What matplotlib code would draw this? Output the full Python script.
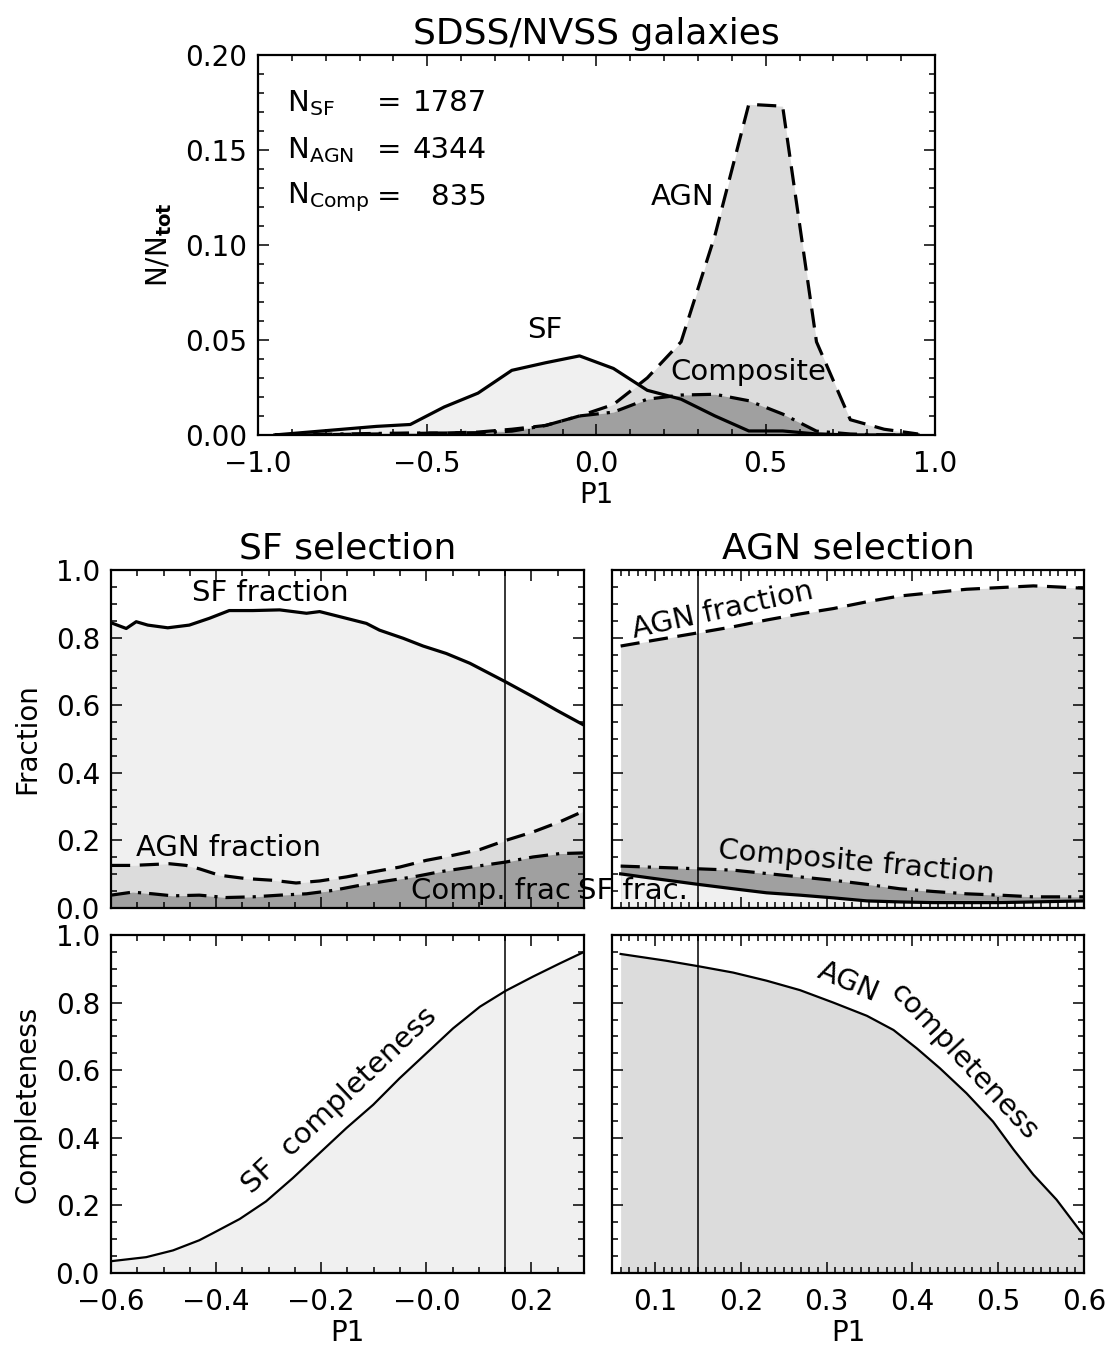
import numpy as np
import matplotlib
matplotlib.use("Agg")
import matplotlib.pyplot as plt
from matplotlib.ticker import FixedLocator, FixedFormatter, MultipleLocator

plt.rcParams["font.family"] = "DejaVu Sans"
plt.rcParams["mathtext.fontset"] = "dejavusans"

# ---- P1 distributions (N/N_tot per bin, bins of 0.1) ----
p1_bins = [-0.95, -0.85, -0.75, -0.65, -0.55, -0.45, -0.35, -0.25, -0.15, -0.05,
           0.05, 0.15, 0.25, 0.35, 0.45, 0.55, 0.65, 0.75, 0.85, 0.95]
hist_sf = [0.0, 0.0015, 0.003, 0.0045, 0.0055, 0.0147, 0.022, 0.034, 0.038, 0.0416,
           0.035, 0.0235, 0.0188, 0.010, 0.0021, 0.0021, 0.0005, 0.0, 0.0, 0.0]
hist_agn = [0.0, 0.0, 0.0003, 0.0005, 0.0008, 0.001, 0.0015, 0.003, 0.005, 0.010,
            0.016, 0.030, 0.049, 0.105, 0.174, 0.173, 0.049, 0.008, 0.003, 0.0005]
hist_comp = [0.0, 0.0003, 0.0005, 0.0008, 0.001, 0.001, 0.0012, 0.002, 0.005, 0.010,
             0.012, 0.0188, 0.021, 0.0214, 0.018, 0.011, 0.002, 0.0005, 0.0, 0.0]
n_sf, n_agn, n_comp = 1787, 4344, 835

# ---- SF selection: fractions vs P1 cut ----
sfsel_p1_sf = [-0.6, -0.571, -0.552, -0.53, -0.492, -0.451, -0.413, -0.375, -0.33,
               -0.279, -0.228, -0.203, -0.152, -0.114, -0.089, -0.044, -0.006,
               0.038, 0.083, 0.151, 0.203, 0.248, 0.3]
sfsel_frac_sf = [0.844, 0.827, 0.847, 0.837, 0.829, 0.837, 0.857, 0.880, 0.880,
                 0.882, 0.872, 0.877, 0.857, 0.842, 0.822, 0.798, 0.775, 0.753,
                 0.724, 0.669, 0.625, 0.585, 0.541]
sfsel_p1_agn = [-0.6, -0.559, -0.489, -0.457, -0.432, -0.394, -0.343, -0.292, -0.248,
                -0.203, -0.152, -0.101, -0.051, 0.0, 0.051, 0.102, 0.151, 0.203,
                0.254, 0.3]
sfsel_frac_agn = [0.126, 0.126, 0.131, 0.126, 0.116, 0.097, 0.087, 0.082, 0.074,
                  0.080, 0.092, 0.107, 0.121, 0.141, 0.156, 0.173, 0.200, 0.225,
                  0.255, 0.287]
sfsel_p1_comp = [-0.6, -0.559, -0.521, -0.483, -0.432, -0.381, -0.33, -0.279, -0.228,
                 -0.178, -0.127, -0.076, -0.025, 0.025, 0.076, 0.151, 0.203, 0.254,
                 0.3]
sfsel_frac_comp = [0.038, 0.047, 0.042, 0.036, 0.038, 0.031, 0.033, 0.038, 0.042,
                   0.052, 0.067, 0.080, 0.092, 0.107, 0.119, 0.136, 0.151, 0.161,
                   0.163]

# ---- AGN selection: fractions vs P1 cut ----
agnsel_p1 = [0.06, 0.094, 0.15, 0.191, 0.23, 0.269, 0.308, 0.347, 0.385, 0.424,
             0.463, 0.502, 0.541, 0.56, 0.6]
agnsel_frac_agn = [0.775, 0.790, 0.814, 0.832, 0.852, 0.870, 0.886, 0.906, 0.923,
                   0.933, 0.943, 0.948, 0.953, 0.951, 0.946]
agnsel_frac_comp = [0.124, 0.121, 0.116, 0.112, 0.102, 0.092, 0.082, 0.070, 0.057,
                    0.049, 0.042, 0.038, 0.033, 0.033, 0.033]
agnsel_frac_sf = [0.101, 0.089, 0.070, 0.057, 0.045, 0.038, 0.030, 0.021, 0.018,
                  0.016, 0.016, 0.016, 0.018, 0.019, 0.021]

# ---- completeness ----
sfcomp_p1 = [-0.6, -0.533, -0.482, -0.432, -0.406, -0.355, -0.305, -0.254, -0.203,
             -0.152, -0.101, -0.051, 0.0, 0.051, 0.102, 0.151, 0.203, 0.254, 0.3]
sfcomp = [0.035, 0.047, 0.067, 0.097, 0.118, 0.160, 0.212, 0.281, 0.355, 0.429,
          0.498, 0.576, 0.650, 0.724, 0.788, 0.835, 0.877, 0.916, 0.950]
agncomp_p1 = [0.06, 0.113, 0.15, 0.191, 0.23, 0.269, 0.308, 0.347, 0.378, 0.405,
              0.432, 0.463, 0.494, 0.518, 0.541, 0.568, 0.596, 0.6]
agncomp = [0.944, 0.924, 0.908, 0.889, 0.865, 0.837, 0.800, 0.761, 0.719, 0.665,
           0.606, 0.532, 0.448, 0.365, 0.291, 0.217, 0.123, 0.113]

p1_cut = 0.15

top_xticks = [-1.0, -0.5, 0.0, 0.5, 1.0]
top_xlabels = ["\u22121.0", "\u22120.5", "0.0", "0.5", "1.0"]
top_yticks = [0.0, 0.05, 0.10, 0.15, 0.20]
top_ylabels = ["0.00", "0.05", "0.10", "0.15", "0.20"]
frac_yticks = [0.0, 0.2, 0.4, 0.6, 0.8, 1.0]
frac_ylabels = ["0.0", "0.2", "0.4", "0.6", "0.8", "1.0"]
sf_xticks = [-0.6, -0.4, -0.2, 0.0, 0.2]
sf_xlabels = ["\u22120.6", "\u22120.4", "\u22120.2", "\u22120.0", "0.2"]
agn_xticks = [0.1, 0.2, 0.3, 0.4, 0.5, 0.6]
agn_xlabels = ["0.1", "0.2", "0.3", "0.4", "0.5", "0.6"]

C_SF = "#f0f0f0"
C_AGN = "#dcdcdc"
C_COMP = "#a0a0a0"
LW = 2.3
DASH = (0, (6, 3))
DASHDOT = (0, (6, 2.5, 1, 2.5))
FS_TICK = 20
FS_LAB = 20
FS_TXT = 21
FS_TITLE = 26


def estilo(ax, xminor, yminor):
    ax.xaxis.set_minor_locator(MultipleLocator(xminor))
    ax.yaxis.set_minor_locator(MultipleLocator(yminor))
    ax.tick_params(which="both", direction="in", top=True, right=True,
                   width=1.1, labelsize=FS_TICK)
    ax.tick_params(axis="x", pad=11)
    ax.tick_params(axis="y", pad=8)
    ax.tick_params(which="major", length=8)
    ax.tick_params(which="minor", length=4)
    for s in ax.spines.values():
        s.set_linewidth(1.6)


def ticks(ax, xt, xl, yt, yl):
    ax.xaxis.set_major_locator(FixedLocator(xt))
    ax.yaxis.set_major_locator(FixedLocator(yt))
    if xl is None:
        ax.set_xticklabels([])
    else:
        ax.xaxis.set_major_formatter(FixedFormatter(xl))
    if yl is None:
        ax.set_yticklabels([])
    else:
        ax.yaxis.set_major_formatter(FixedFormatter(yl))


fig = plt.figure(figsize=(11.1, 13.52), dpi=100)

# ---------------- top: P1 histograms ----------------
ax0 = fig.add_axes([0.2324, 0.6783, 0.6099, 0.2811])
ax0.fill_between(p1_bins, 0, hist_sf, color=C_SF, lw=0)
ax0.fill_between(p1_bins, 0, hist_agn, color=C_AGN, lw=0)
ax0.fill_between(p1_bins, 0, hist_comp, color=C_COMP, lw=0)
ax0.plot(p1_bins, hist_sf, color="k", lw=LW)
ax0.plot(p1_bins, hist_agn, color="k", lw=LW, ls=DASH)
ax0.plot(p1_bins, hist_comp, color="k", lw=LW, ls=DASHDOT)
ax0.set_xlim(-1.0, 1.0)
ax0.set_ylim(0.0, 0.20)
ticks(ax0, top_xticks, top_xlabels, top_yticks, top_ylabels)
estilo(ax0, 0.1, 0.01)
ax0.set_xlabel("P1", fontsize=FS_LAB, labelpad=2)
ax0.set_ylabel(r"N/N$_{\mathbf{tot}}$", fontsize=FS_LAB, labelpad=8)
ax0.set_title("SDSS/NVSS galaxies", fontsize=FS_TITLE, pad=8)

filas = [(r"N$_{\mathrm{SF}}$", n_sf, 0.1747),
         (r"N$_{\mathrm{AGN}}$", n_agn, 0.150),
         (r"N$_{\mathrm{Comp}}$", n_comp, 0.1253)]
for lab, n, yy in filas:
    ax0.text(-0.914, yy, lab, fontsize=FS_TXT, ha="left", va="center")
    ax0.text(-0.612, yy, "=", fontsize=FS_TXT, ha="center", va="center")
    ax0.text(-0.3235, yy, f"{n:d}", fontsize=FS_TXT, ha="right", va="center")
ax0.text(0.2555, 0.1253, "AGN", fontsize=FS_TXT, ha="center", va="center")
ax0.text(-0.152, 0.0553, "SF", fontsize=FS_TXT, ha="center", va="center")
ax0.text(0.4476, 0.0332, "Composite", fontsize=FS_TXT, ha="center", va="center")

# ---------------- middle left: SF selection fractions ----------------
ax1 = fig.add_axes([0.1, 0.3284, 0.4261, 0.25])
ax1.fill_between(sfsel_p1_sf, 0, sfsel_frac_sf, color=C_SF, lw=0)
ax1.fill_between(sfsel_p1_agn, 0, sfsel_frac_agn, color=C_AGN, lw=0)
ax1.fill_between(sfsel_p1_comp, 0, sfsel_frac_comp, color=C_COMP, lw=0)
ax1.plot(sfsel_p1_sf, sfsel_frac_sf, color="k", lw=LW)
ax1.plot(sfsel_p1_agn, sfsel_frac_agn, color="k", lw=LW, ls=DASH)
ax1.plot(sfsel_p1_comp, sfsel_frac_comp, color="k", lw=LW, ls=DASHDOT)
ax1.axvline(p1_cut, color="k", lw=1.1)
ax1.set_xlim(-0.6, 0.3)
ax1.set_ylim(0.0, 1.0)
ticks(ax1, sf_xticks, None, frac_yticks, frac_ylabels)
estilo(ax1, 0.05, 0.05)
ax1.set_ylabel("Fraction", fontsize=FS_LAB, labelpad=10)
ax1.set_title("SF selection", fontsize=FS_TITLE, pad=8)
ax1.text(-0.296, 0.932, "SF fraction", fontsize=FS_TXT, ha="center", va="center")
ax1.text(-0.3755, 0.1775, "AGN fraction", fontsize=FS_TXT, ha="center", va="center")
ax1.text(-0.03, 0.05, "Comp. frac", fontsize=FS_TXT, ha="left", va="center",
         clip_on=False)

# ---------------- middle right: AGN selection fractions ----------------
ax2 = fig.add_axes([0.5514, 0.3284, 0.4252, 0.25])
ax2.fill_between(agnsel_p1, 0, agnsel_frac_agn, color=C_AGN, lw=0)
ax2.fill_between(agnsel_p1, 0, agnsel_frac_comp, color=C_COMP, lw=0)
ax2.fill_between(agnsel_p1, 0, agnsel_frac_sf, color=C_SF, lw=0)
ax2.plot(agnsel_p1, agnsel_frac_agn, color="k", lw=LW, ls=DASH)
ax2.plot(agnsel_p1, agnsel_frac_comp, color="k", lw=LW, ls=DASHDOT)
ax2.plot(agnsel_p1, agnsel_frac_sf, color="k", lw=LW)
ax2.axvline(p1_cut, color="k", lw=1.1)
ax2.set_xlim(0.05, 0.6)
ax2.set_ylim(0.0, 1.0)
ticks(ax2, agn_xticks, None, frac_yticks, None)
estilo(ax2, 0.01, 0.05)
ax2.set_title("AGN selection", fontsize=FS_TITLE, pad=8)
ax2.text(0.179, 0.882, "AGN fraction", fontsize=FS_TXT, ha="center", va="center",
         rotation=12.4, rotation_mode="anchor")
ax2.text(0.335, 0.136, "Composite fraction", fontsize=FS_TXT, ha="center",
         va="center", rotation=-5.1, rotation_mode="anchor")
ax2.text(0.0105, 0.05, "SF frac.", fontsize=FS_TXT, ha="left", va="center",
         clip_on=False)

# ---------------- bottom left: SF completeness ----------------
ax3 = fig.add_axes([0.1, 0.0584, 0.4261, 0.25])
ax3.fill_between(sfcomp_p1, 0, sfcomp, color=C_SF, lw=0)
ax3.plot(sfcomp_p1, sfcomp, color="k", lw=1.6)
ax3.axvline(p1_cut, color="k", lw=1.1)
ax3.set_xlim(-0.6, 0.3)
ax3.set_ylim(0.0, 1.0)
ticks(ax3, sf_xticks, sf_xlabels, frac_yticks, frac_ylabels)
estilo(ax3, 0.05, 0.05)
ax3.set_xlabel("P1", fontsize=FS_LAB, labelpad=2)
ax3.set_ylabel("Completeness", fontsize=FS_LAB, labelpad=10)
ax3.text(-0.165, 0.51, "SF  completeness", fontsize=FS_TXT, ha="center",
         va="center", rotation=43.5, rotation_mode="anchor")

# ---------------- bottom right: AGN completeness ----------------
ax4 = fig.add_axes([0.5514, 0.0584, 0.4252, 0.25])
ax4.fill_between(agncomp_p1, 0, agncomp, color=C_AGN, lw=0)
ax4.plot(agncomp_p1, agncomp, color="k", lw=1.6)
ax4.axvline(p1_cut, color="k", lw=1.1)
ax4.set_xlim(0.05, 0.6)
ax4.set_ylim(0.0, 1.0)
ticks(ax4, agn_xticks, agn_xlabels, frac_yticks, None)
estilo(ax4, 0.01, 0.05)
ax4.set_xlabel("P1", fontsize=FS_LAB, labelpad=2)
ax4.text(0.325, 0.86, "AGN", fontsize=FS_TXT, ha="center", va="center",
         rotation=-23, rotation_mode="anchor")
ax4.text(0.46, 0.625, "completeness", fontsize=FS_TXT, ha="center", va="center",
         rotation=-47, rotation_mode="anchor")

fig.savefig("out.png", dpi=100)
